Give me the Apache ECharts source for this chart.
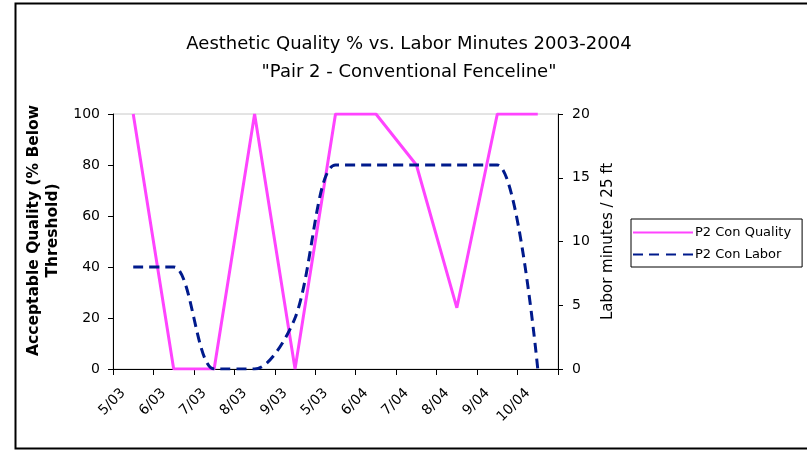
<!DOCTYPE html>
<html><head><meta charset="utf-8">
<script src="https://cdn.jsdelivr.net/npm/echarts@6/dist/echarts.min.js"></script>
<style>html,body{margin:0;padding:0;background:#fff}#c{width:807px;height:451px}</style>
</head><body><div id="c"></div>
<script>
const categories = ['5/03','6/03','7/03','8/03','9/03','5/03','6/04','7/04','8/04','9/04','10/04'];
const qualityValues = [100, 0, 0, 100, 0, 100, 100, 80, 24, 100, 100];
const laborValues = [8, 8, 0, 0, 4, 16, 16, 16, 16, 16, 0];
const leftTicks = [0, 20, 40, 60, 80, 100];
const rightTicks = [0, 5, 10, 15, 20];

const FONT = 'DejaVu Sans';
const chart = echarts.init(document.getElementById('c'));
chart.setOption({
  animation: false,
  textStyle: { fontFamily: FONT },
  title: {
    text: 'Aesthetic Quality % vs. Labor Minutes 2003-2004\n"Pair 2 - Conventional Fenceline"',
    left: 404, top: 25, textAlign: 'center',
    textStyle: { fontFamily: FONT, fontSize: 18, fontWeight: 'normal', color: '#000', lineHeight: 28 }
  },
  graphic: [{
    type: 'rect', shape: { x: 15.5, y: 3.5, width: 800, height: 445 },
    style: { fill: 'none', stroke: '#000', lineWidth: 2 }, silent: true, z: -1
  }],
  legend: {
    orient: 'vertical', left: 631, top: 219,
    itemWidth: 60, itemHeight: 10, itemGap: 7,
    padding: [6, 11, 5, 2],
    borderColor: '#000', borderWidth: 1,
    textStyle: { fontFamily: FONT, fontSize: 13, color: '#000', lineHeight: 15, padding: [0,0,0,-3] },
    data: [
      { name: 'P2 Con Quality', icon: 'path://M0,4L60,4L60,6L0,6Z' },
      { name: 'P2 Con Labor', icon: 'path://M0,4L10,4L10,6L0,6ZM16,4L26,4L26,6L16,6ZM33,4L43,4L43,6L33,6ZM50,4L60,4L60,6L50,6Z' }
    ]
  },
  grid: { left: 113, right: 249, top: 114, bottom: 82, show: true, borderColor: '#c8c8c8', borderWidth: 1 },
  xAxis: {
    type: 'category', data: categories, boundaryGap: true,
    axisLine: { lineStyle: { color: '#000', width: 1 } },
    axisTick: { show: true, length: 6, lineStyle: { color: '#000' } },
    axisLabel: { rotate: 45, fontSize: 14, color: '#000', margin: 12, fontFamily: FONT, padding: [0, 14, 0, 0] }
  },
  yAxis: [{
    type: 'value', min: 0, max: 100, interval: 20,
    name: 'Acceptable Quality (% Below\nThreshold)',
    nameLocation: 'middle', nameGap: 47, nameRotate: 90,
    nameTextStyle: { fontFamily: FONT, fontSize: 15.5, fontWeight: 'bold', color: '#000', lineHeight: 19, padding: [0, 0, 0, 22] },
    axisLine: { show: true, lineStyle: { color: '#000' } },
    axisTick: { show: true, length: 5, lineStyle: { color: '#000' } },
    axisLabel: { fontSize: 14, color: '#000', margin: 13, fontFamily: FONT,
      formatter: v => leftTicks.includes(v) ? String(v) : '' },
    splitLine: { show: false }
  }, {
    type: 'value', min: 0, max: 20, interval: 5, position: 'right',
    name: 'Labor minutes / 25 ft',
    nameLocation: 'middle', nameGap: 39, nameRotate: 90,
    nameTextStyle: { fontFamily: FONT, fontSize: 15, color: '#000' },
    axisLine: { show: true, lineStyle: { color: '#000' } },
    axisTick: { show: true, length: 5, lineStyle: { color: '#000' } },
    axisLabel: { fontSize: 14, color: '#000', margin: 14, fontFamily: FONT,
      formatter: v => rightTicks.includes(v) ? String(v) : '' },
    splitLine: { show: false }
  }],
  series: [{
    name: 'P2 Con Quality', type: 'line', yAxisIndex: 0, data: qualityValues,
    showSymbol: false, symbol: 'none', color: '#ff44ff',
    lineStyle: { color: '#ff44ff', width: 3 }
  }, {
    name: 'P2 Con Labor', type: 'line', yAxisIndex: 1, data: laborValues,
    showSymbol: false, symbol: 'none', color: '#001a8c', smooth: 0.3,
    lineStyle: { color: '#001a8c', width: 3, type: [10, 6] }
  }]
});
</script></body></html>
